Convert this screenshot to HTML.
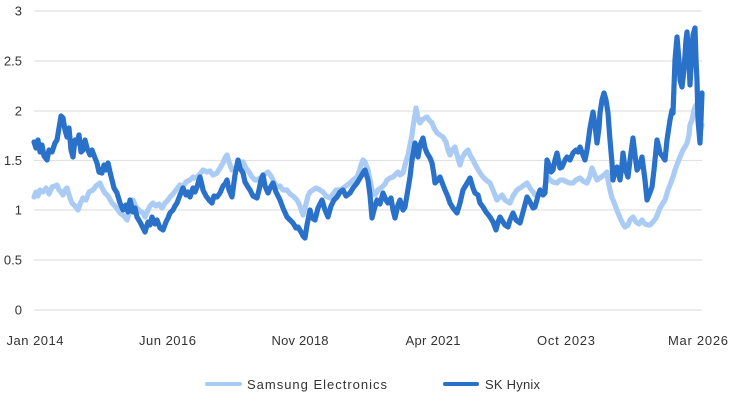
<!DOCTYPE html>
<html><head><meta charset="utf-8"><style>
html,body{margin:0;padding:0;background:#fff;}
svg{display:block;}
text{font-family:"Liberation Sans",Arial,sans-serif;fill:#333;font-size:13px;}
</style></head><body>
<svg width="730" height="406" viewBox="0 0 730 406" xmlns="http://www.w3.org/2000/svg">
<g stroke="#e2e2e2" stroke-width="1.2">
<line x1="34" y1="11" x2="702" y2="11"/>
<line x1="34" y1="61" x2="702" y2="61"/>
<line x1="34" y1="111" x2="702" y2="111"/>
<line x1="34" y1="160.5" x2="702" y2="160.5"/>
<line x1="34" y1="210" x2="702" y2="210"/>
<line x1="34" y1="260" x2="702" y2="260"/>
<line x1="34" y1="310" x2="702" y2="310"/>
</g>
<g text-anchor="end">
<text x="22" y="15.5">3</text>
<text x="22" y="65.5">2.5</text>
<text x="22" y="115.5">2</text>
<text x="22" y="165">1.5</text>
<text x="22" y="214.5">1</text>
<text x="22" y="264.5">0.5</text>
<text x="22" y="314.5">0</text>
</g>
<g text-anchor="middle">
<text x="35" y="345" textLength="57">Jan 2014</text>
<text x="167.5" y="345" textLength="57">Jun 2016</text>
<text x="300" y="345" textLength="57">Nov 2018</text>
<text x="433" y="345" textLength="55">Apr 2021</text>
<text x="566" y="345" textLength="58">Oct 2023</text>
<text x="698" y="345" textLength="60">Mar 2026</text>
</g>
<polyline fill="none" stroke="#aacbf3" stroke-width="5.2" stroke-linejoin="round" stroke-linecap="round" points="34,197 36,192 38,196 40,190 43,192 46,188 49,194 52,187 55,186 57,185 59,190 61,192 63,195 65,190 67,188 70,198 72,203 75,206 78,210 80,204 83,198 86,200 89,192 93,190 96,186 100,183 102,188 105,193 108,196 112,203 115,206 118,210 120,213 124,216 127,220 130,210 133,200 136,207 140,211 143,213 145,217 148,210 150,206 153,203 156,206 159,204 162,208 165,203 168,200 170,197 173,194 176,190 180,185 183,187 186,182 190,180 193,177 196,178 200,174 203,170 207,172 210,171 213,175 217,173 220,168 223,163 225,158 227,155 229,162 232,170 235,168 238,166 240,162 243,162 246,168 249,172 252,177 255,180 257,180 260,178 263,176 265,174 268,172 271,176 274,182 277,187 280,186 283,190 287,190 290,194 293,196 297,200 300,206 303,215 305,208 308,196 310,192 313,190 316,188 320,190 323,192 326,196 330,198 333,194 336,190 340,190 343,188 346,186 350,183 353,180 357,177 359,172 361,165 363,160 365,162 368,170 370,180 372,190 375,195 378,190 382,187 385,184 387,180 390,178 393,177 395,175 398,172 400,175 403,173 405,165 408,155 410,145 412,135 413,127 415,115 416,108 418,118 420,123 422,120 425,118 427,117 429,120 432,123 434,128 437,133 440,135 443,137 446,142 448,150 450,155 452,150 455,147 457,155 460,165 462,158 465,153 468,150 470,155 473,160 476,166 480,173 483,177 486,180 490,183 493,190 497,200 500,197 502,195 505,200 508,202 510,203 513,196 517,190 520,188 523,186 527,183 530,188 533,192 535,195 538,194 542,193 545,186 548,177 550,180 553,182 557,183 560,180 563,180 567,182 570,183 573,183 576,180 580,178 583,181 587,183 590,176 592,168 594,173 597,180 600,178 604,175 607,172 608,180 610,190 612,198 613,200 615,205 618,213 621,220 623,224 625,227 628,225 630,220 633,217 636,222 639,224 642,220 645,224 648,225 650,225 653,222 656,218 658,213 660,208 663,203 665,200 668,190 670,185 673,177 675,170 678,162 680,157 683,150 685,147 687,143 689,135 690,125 692,120 694,110 696,105 697,107 699,120 700,133 702,125"/>
<polyline fill="none" stroke="#2a71c9" stroke-width="5.2" stroke-linejoin="round" stroke-linecap="round" points="34,142 36,148 38,140 40,152 42,145 44,156 47,160 49,150 52,152 55,143 57,140 59,128 61,116 63,118 65,130 67,137 69,128 71,150 73,157 75,140 77,143 79,135 81,152 83,150 85,140 87,148 90,155 92,150 95,158 97,163 99,172 102,173 104,165 106,170 108,163 110,172 112,180 114,188 117,193 120,203 123,210 126,205 128,212 130,200 133,212 135,208 137,217 140,222 142,226 145,232 148,222 150,225 152,217 155,224 157,220 160,228 163,230 166,222 168,218 170,213 173,210 175,206 177,203 180,195 183,188 186,195 188,192 190,197 193,188 195,192 197,187 199,180 200,177 202,185 203,190 206,196 209,200 212,203 214,196 217,197 220,193 223,186 225,184 227,180 229,190 232,197 235,175 238,160 240,168 243,173 245,182 248,187 250,190 253,196 257,198 259,190 261,180 263,175 265,186 268,193 270,188 273,183 276,192 280,200 283,208 287,217 290,220 293,223 296,228 298,227 301,232 303,236 305,238 307,225 310,210 312,218 315,220 318,208 322,200 325,210 328,217 331,206 334,200 337,197 340,192 343,190 346,196 350,193 353,188 357,183 360,178 363,173 365,170 368,180 370,195 372,218 374,210 377,200 380,204 383,193 386,200 388,203 391,198 393,210 395,218 398,205 400,200 403,210 405,207 407,195 410,177 412,160 415,143 417,152 418,157 420,145 423,138 425,148 427,153 430,158 432,163 434,175 435,183 438,180 440,177 443,185 445,190 448,197 450,203 453,208 457,213 460,203 463,190 466,185 470,178 473,188 475,193 478,195 480,203 483,207 486,212 490,217 493,222 496,230 498,222 500,217 503,222 505,225 508,227 510,220 513,213 516,220 520,223 523,212 527,197 530,202 533,208 535,207 538,196 540,190 543,195 545,193 547,160 549,165 551,172 553,170 555,160 557,153 560,168 562,167 565,160 567,157 570,160 573,153 576,150 578,152 580,147 583,155 585,160 587,150 588,143 590,128 593,112 595,125 597,143 599,128 600,113 602,100 604,93 606,100 608,113 610,140 612,163 613,180 615,172 617,167 619,175 620,180 622,165 623,153 625,168 628,177 630,160 633,138 635,155 637,170 640,165 642,157 645,180 647,200 649,195 652,187 654,170 657,140 659,148 660,153 663,157 665,160 667,140 670,120 672,110 673,113 675,60 677,37 679,60 680,80 682,87 684,70 686,40 687,32 689,60 690,85 692,50 693,35 695,28 696,60 697,80 698,120 700,143 701,120 702,93"/>
<line x1="207" y1="384" x2="240" y2="384" stroke="#aacbf3" stroke-width="4" stroke-linecap="round"/>
<text x="247" y="389" textLength="140">Samsung Electronics</text>
<line x1="445" y1="384" x2="477" y2="384" stroke="#2a71c9" stroke-width="4" stroke-linecap="round"/>
<text x="485" y="389" textLength="55">SK Hynix</text>
</svg>
</body></html>
